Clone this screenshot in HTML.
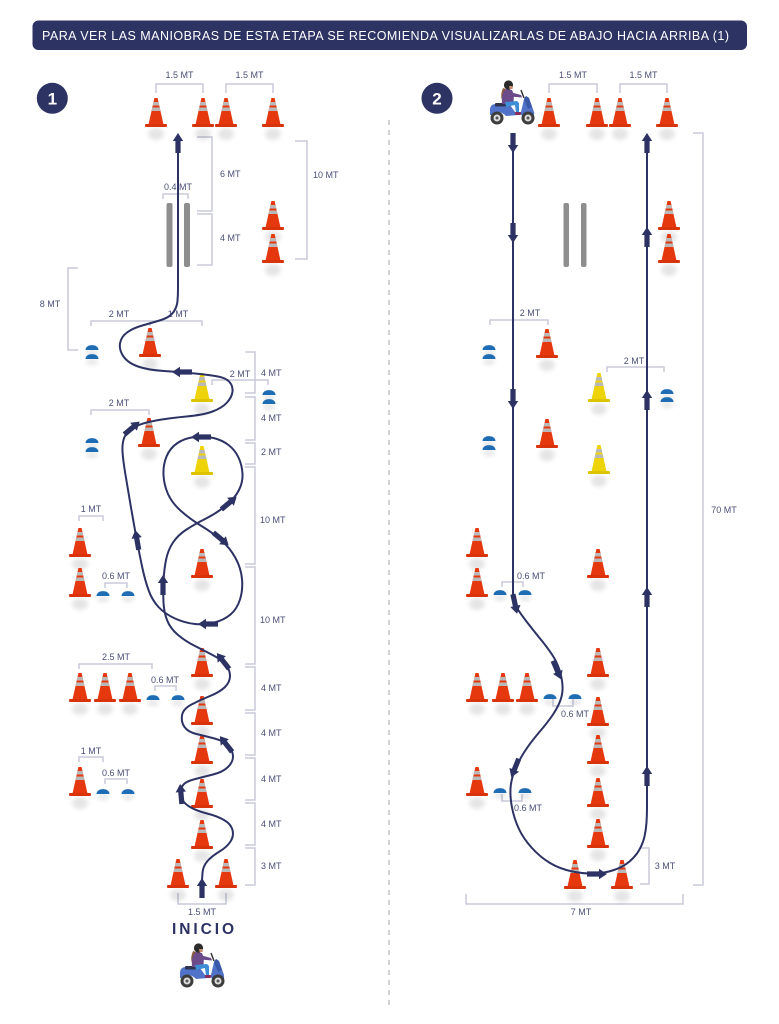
<!DOCTYPE html>
<html><head><meta charset="utf-8"><style>
html,body{margin:0;padding:0;background:#fff;}
svg{display:block;}
.l{font-family:"Liberation Sans",Arial,sans-serif;font-size:9px;fill:#4a4f77;text-anchor:middle;}
.ls{font-family:"Liberation Sans",Arial,sans-serif;font-size:9px;fill:#4a4f77;text-anchor:start;}
.b{fill:none;stroke:#c8cada;stroke-width:1.5;}
</style></head><body>
<svg width="779" height="1024" viewBox="0 0 779 1024" xmlns="http://www.w3.org/2000/svg" xmlns:xlink="http://www.w3.org/1999/xlink">
<defs>
<filter id="bl" x="-80%" y="-80%" width="260%" height="260%"><feGaussianBlur stdDeviation="2.5"/></filter>
<g id="cone">
 <ellipse cx="0" cy="7" rx="8" ry="6" fill="#000" opacity="0.10" filter="url(#bl)"/>
 <path d="M-1.6,-29 L1.6,-29 L7.5,-2.5 L-7.5,-2.5 Z" fill="#e5380e"/>
 <path d="M-2.49,-25 L2.49,-25 L3.27,-21.5 L-3.27,-21.5 Z" fill="#b9b9b9"/>
 <path d="M-3.71,-19.5 L3.71,-19.5 L4.49,-16 L-4.49,-16 Z" fill="#b9b9b9"/>
 <rect x="-11" y="-3" width="22" height="3" rx="1" fill="#d8330b"/>
</g>
<g id="ycone">
 <ellipse cx="0" cy="7" rx="8" ry="6" fill="#000" opacity="0.10" filter="url(#bl)"/>
 <path d="M-1.6,-29 L1.6,-29 L7.5,-2.5 L-7.5,-2.5 Z" fill="#efd30a"/>
 <path d="M-2.49,-25 L2.49,-25 L3.27,-21.5 L-3.27,-21.5 Z" fill="#b9b9b9"/>
 <path d="M-3.71,-19.5 L3.71,-19.5 L4.49,-16 L-4.49,-16 Z" fill="#b9b9b9"/>
 <rect x="-11" y="-3" width="22" height="3" rx="1" fill="#dec400"/>
</g>
<g id="disc">
 <ellipse cx="0" cy="3" rx="6" ry="3" fill="#000" opacity="0.1" filter="url(#bl)"/>
 <path d="M-6.5,0 C-6.5,-6.5 6.5,-6.5 6.5,0 Z" fill="#1e6cb4"/>
</g>
<path id="ar" d="M-10,-2.6 L2,-2.6 L2,-5.2 L10,0 L2,5.2 L2,2.6 L-10,2.6 Z" fill="#2c3263"/>
<g id="moto">
 <path d="M2,31 Q2,25 8,25 L22,26 L27,33 L33,33 L36,20 L38,17 L41,19 L46,33 Q47,38 43,38 L35,38 Q33,34 30,36 L18,37 Q14,33 10,33 Q5,33 4,36 L2,36 Z" fill="#5072c8"/>
 <path d="M36,20 L38,17 L41,19 L44,28 L40,30 Z" fill="#3a58a8"/>
 <circle cx="9" cy="39" r="6.5" fill="#3d3d3d"/><circle cx="9" cy="39" r="3.5" fill="#dcdcdc"/><circle cx="9" cy="39" r="1.5" fill="#555"/>
 <circle cx="40" cy="39" r="6.5" fill="#3d3d3d"/><circle cx="40" cy="39" r="3.5" fill="#dcdcdc"/><circle cx="40" cy="39" r="1.5" fill="#555"/>
 <rect x="7" y="24" width="15" height="3.5" rx="1" fill="#2f3450"/>
 <path d="M15,9 Q12,16 14,21 L18,19 Q16,13 18,10 Z" fill="#8b5a3c"/>
 <path d="M14,25 Q13,14 18,10 L24,11 Q27,17 25,25 Z" fill="#6c4b8a"/>
 <path d="M22,13 L33,16 L34,18.5 L22,17.5 Z" fill="#6c4b8a"/>
 <path d="M17,23 L29,22 L31,24 L31,34 L28,34 L27,26 L18,28 Z" fill="#3d8ed6"/>
 <rect x="27" y="33" width="6" height="3" rx="1" fill="#8b2d5a"/>
 <line x1="33" y1="11" x2="36" y2="19" stroke="#333" stroke-width="1.5"/>
 <circle cx="20.5" cy="6" r="4.6" fill="#2b2b2b"/>
 <path d="M21,7 L25,7 L24.5,10 L21.5,10 Z" fill="#c98d6e"/>
</g>
</defs>

<rect width="779" height="1024" fill="#fff"/>

<!-- Header -->
<rect x="32.5" y="20.5" width="714.5" height="29.5" rx="6" fill="#2d3363"/>
<text x="42" y="40" font-family="'Liberation Sans',Arial,sans-serif" font-size="12.5" fill="#fff" textLength="687" lengthAdjust="spacing">PARA VER LAS MANIOBRAS DE ESTA ETAPA SE RECOMIENDA VISUALIZARLAS DE ABAJO HACIA ARRIBA (1)</text>

<!-- Badges -->
<circle cx="52.3" cy="98.3" r="15.5" fill="#2d3363"/>
<text x="52.3" y="104.5" font-family="'Liberation Sans',Arial,sans-serif" font-size="17" font-weight="bold" fill="#fff" text-anchor="middle">1</text>
<circle cx="437" cy="98.3" r="15.5" fill="#2d3363"/>
<text x="437" y="104.5" font-family="'Liberation Sans',Arial,sans-serif" font-size="17" font-weight="bold" fill="#fff" text-anchor="middle">2</text>

<!-- Divider -->
<line x1="389" y1="120" x2="389" y2="1010" stroke="#b3b3b3" stroke-width="1.2" stroke-dasharray="5 5"/>

<!-- ============ LEFT DIAGRAM ============ -->
<path class="b" d="M156,93 L156,84 L203,84 L203,93"/>
<path class="b" d="M226,93 L226,84 L273,84 L273,93"/>
<path class="b" d="M163,199 L163,194 L188,194 L188,199"/>
<path class="b" d="M197,137 L212,137 L212,211 L197,211"/>
<path class="b" d="M197,214 L212,214 L212,265 L197,265"/>
<path class="b" d="M295,141 L307,141 L307,259 L295,259"/>
<path class="b" d="M78,268 L68,268 L68,350 L78,350"/>
<path class="b" d="M91,326 L91,321 L202,321 L202,326 M150,321 L150,326"/>
<path class="b" d="M212,385 L212,380 L268,380 L268,385"/>
<path class="b" d="M91,415 L91,410 L149,410 L149,415"/>
<path class="b" d="M79,521 L79,516 L103,516 L103,521"/>
<path class="b" d="M105,588 L105,583 L127,583 L127,588"/>
<path class="b" d="M79,669 L79,664 L152,664 L152,669"/>
<path class="b" d="M155,691 L155,686 L176,686 L176,691"/>
<path class="b" d="M79,762 L79,757 L103,757 L103,762"/>
<path class="b" d="M105,784 L105,779 L127,779 L127,784"/>
<path class="b" d="M178,893 L178,904 L226,904 L226,893"/>
<path class="b" d="M245,352 L255,352 L255,393 L245,393"/>
<path class="b" d="M245,397 L255,397 L255,440 L245,440"/>
<path class="b" d="M245,443 L255,443 L255,464 L245,464"/>
<path class="b" d="M245,467 L255,467 L255,564 L245,564"/>
<path class="b" d="M245,567 L255,567 L255,664 L245,664"/>
<path class="b" d="M245,667 L255,667 L255,710 L245,710"/>
<path class="b" d="M245,713 L255,713 L255,755 L245,755"/>
<path class="b" d="M245,758 L255,758 L255,800 L245,800"/>
<path class="b" d="M245,803 L255,803 L255,845 L245,845"/>
<path class="b" d="M245,848 L255,848 L255,885 L245,885"/>

<text class="l" x="179.5" y="78">1.5 MT</text>
<text class="l" x="249.5" y="78">1.5 MT</text>
<text class="l" x="178" y="190">0.4 MT</text>
<text class="ls" x="220" y="177">6 MT</text>
<text class="ls" x="220" y="241">4 MT</text>
<text class="ls" x="313" y="178">10 MT</text>
<text class="l" x="50" y="307">8 MT</text>
<text class="l" x="119" y="317">2 MT</text>
<text class="l" x="178" y="317">1 MT</text>
<text class="l" x="240" y="377">2 MT</text>
<text class="l" x="119" y="406">2 MT</text>
<text class="l" x="91" y="512">1 MT</text>
<text class="l" x="116" y="579">0.6 MT</text>
<text class="l" x="116" y="660">2.5 MT</text>
<text class="l" x="165" y="683">0.6 MT</text>
<text class="l" x="91" y="754">1 MT</text>
<text class="l" x="116" y="776">0.6 MT</text>
<text class="l" x="202" y="915">1.5 MT</text>
<text class="ls" x="261" y="376">4 MT</text>
<text class="ls" x="261" y="421">4 MT</text>
<text class="ls" x="261" y="455">2 MT</text>
<text class="ls" x="260" y="523">10 MT</text>
<text class="ls" x="260" y="623">10 MT</text>
<text class="ls" x="261" y="691">4 MT</text>
<text class="ls" x="261" y="736">4 MT</text>
<text class="ls" x="261" y="782">4 MT</text>
<text class="ls" x="261" y="827">4 MT</text>
<text class="ls" x="261" y="869">3 MT</text>
<text x="203" y="934" font-family="'Liberation Sans',Arial,sans-serif" font-size="15.5" font-weight="bold" fill="#2c3263" text-anchor="middle" textLength="62" lengthAdjust="spacing">INICIO</text>

<rect x="166.5" y="203" width="6" height="64" rx="2" fill="#8e8e8e"/>
<rect x="184" y="203" width="6" height="64" rx="2" fill="#8e8e8e"/>

<use xlink:href="#cone" transform="translate(156,127)"/>
<use xlink:href="#cone" transform="translate(203,127)"/>
<use xlink:href="#cone" transform="translate(226,127)"/>
<use xlink:href="#cone" transform="translate(273,127)"/>
<use xlink:href="#cone" transform="translate(273,230)"/>
<use xlink:href="#cone" transform="translate(273,263)"/>
<use xlink:href="#cone" transform="translate(150,357)"/>
<use xlink:href="#ycone" transform="translate(202,402)"/>
<use xlink:href="#cone" transform="translate(149,447)"/>
<use xlink:href="#ycone" transform="translate(202,475)"/>
<use xlink:href="#cone" transform="translate(80,557)"/>
<use xlink:href="#cone" transform="translate(80,597)"/>
<use xlink:href="#cone" transform="translate(202,578)"/>
<use xlink:href="#cone" transform="translate(202,677)"/>
<use xlink:href="#cone" transform="translate(80,702)"/>
<use xlink:href="#cone" transform="translate(105,702)"/>
<use xlink:href="#cone" transform="translate(130,702)"/>
<use xlink:href="#cone" transform="translate(202,725)"/>
<use xlink:href="#cone" transform="translate(202,764)"/>
<use xlink:href="#cone" transform="translate(202,808)"/>
<use xlink:href="#cone" transform="translate(202,849)"/>
<use xlink:href="#cone" transform="translate(80,796)"/>
<use xlink:href="#cone" transform="translate(178,888)"/>
<use xlink:href="#cone" transform="translate(226,888)"/>

<use xlink:href="#disc" transform="translate(92,350)"/>
<use xlink:href="#disc" transform="translate(92,359)"/>
<use xlink:href="#disc" transform="translate(92,443)"/>
<use xlink:href="#disc" transform="translate(92,452)"/>
<use xlink:href="#disc" transform="translate(269,395)"/>
<use xlink:href="#disc" transform="translate(269,404)"/>
<use xlink:href="#disc" transform="translate(103,596)"/>
<use xlink:href="#disc" transform="translate(128,596)"/>
<use xlink:href="#disc" transform="translate(153,700)"/>
<use xlink:href="#disc" transform="translate(178,700)"/>
<use xlink:href="#disc" transform="translate(103,794)"/>
<use xlink:href="#disc" transform="translate(128,794)"/>

<path fill="none" stroke="#2c3263" stroke-width="2" stroke-linecap="round" stroke-linejoin="round" d="M202,880 L202.5,873 Q203,866 207.5,861 Q212,856 219.5,851.5 Q227,847 230.5,841.5 Q234,836 232.5,830 Q231,824 224,820 Q217,816 207,813.5 Q197,811 190,807 Q183,803 181.5,797.5 Q180,792 182,787 Q184,782 193.5,779.5 Q203,777 213,774.5 Q223,772 228,767 Q233,762 233,756.5 Q233,751 228.5,746 Q224,741 214.5,738.5 Q205,736 196.5,734 Q188,732 184.5,727 Q181,722 182,715.5 Q183,709 191.5,704.5 Q200,700 210,696 Q220,692 225,687 Q230,682 230,676 Q230,670 226,665 Q222,660 213.5,655.5 Q205,651 195,646 Q185,641 177.5,634.5 Q170,628 167,620 Q164,612 163.5,602.5 Q163,593 163.5,581.5 Q164,570 166,560 Q168,550 173,542.5 Q178,535 186.5,529.5 Q195,524 206,518.5 Q217,513 226,505.5 Q235,498 239,490 Q243,482 242.5,473.5 Q242,465 238.5,457.5 Q235,450 228.5,445 Q222,440 213.5,438 Q205,436 195,437 Q185,438 177.5,443 Q170,448 166.5,456.5 Q163,465 163.5,475 Q164,485 168,494 Q172,503 181,511 Q190,519 201.5,526 Q213,533 221.5,540.5 Q230,548 235.5,558 Q241,568 242,579 Q243,590 240,599.5 Q237,609 230.5,614.5 Q224,620 214.5,622.5 Q205,625 195,624 Q185,623 175,618.5 Q165,614 158.5,607 Q152,600 148.5,590 Q145,580 142.5,568.5 Q140,557 137,541 Q134,525 131,507.5 Q128,490 125.5,475 Q123,460 122.5,451.5 Q122,443 124.5,437 Q127,431 134.5,427 Q142,423 156,420.5 Q170,418 186.5,416.5 Q203,415 212.5,411.5 Q222,408 227,402.5 Q232,397 232.5,391.5 Q233,386 229.5,382 Q226,378 218,376.5 Q210,375 195,373.5 Q180,372 164,371 Q148,370 138,366.5 Q128,363 123.5,356.5 Q119,350 120,343.5 Q121,337 127,332.5 Q133,328 144,325 Q155,322 162.5,319.5 Q170,317 173.5,312 Q177,307 177.5,301 Q178,295 178,288 L178,150"/>

<use xlink:href="#ar" transform="translate(202,888) rotate(-90)"/>
<use xlink:href="#ar" transform="translate(181,794) rotate(-95)"/>
<use xlink:href="#ar" transform="translate(226,744) rotate(-128)"/>
<use xlink:href="#ar" transform="translate(223,661) rotate(-128)"/>
<use xlink:href="#ar" transform="translate(163,585) rotate(-90)"/>
<use xlink:href="#ar" transform="translate(229,503) rotate(-40)"/>
<use xlink:href="#ar" transform="translate(201,437) rotate(180)"/>
<use xlink:href="#ar" transform="translate(221,539) rotate(40)"/>
<use xlink:href="#ar" transform="translate(208,624) rotate(180)"/>
<use xlink:href="#ar" transform="translate(137,540) rotate(-100)"/>
<use xlink:href="#ar" transform="translate(132,428) rotate(-40)"/>
<use xlink:href="#ar" transform="translate(182,372) rotate(180)"/>
<use xlink:href="#ar" transform="translate(178,143) rotate(-90)"/>

<use xlink:href="#moto" transform="translate(178,942)"/>

<!-- ============ RIGHT DIAGRAM ============ -->
<path class="b" d="M549,93 L549,84 L597,84 L597,93"/>
<path class="b" d="M620,93 L620,84 L667,84 L667,93"/>
<path class="b" d="M490,325 L490,320 L548,320 L548,325"/>
<path class="b" d="M607,372 L607,367 L664,367 L664,372"/>
<path class="b" d="M693,133 L703,133 L703,885 L693,885"/>
<path class="b" d="M502,587 L502,582 L523,582 L523,587"/>
<path class="b" d="M553,698 L553,706 L573,706 L573,698"/>
<path class="b" d="M502,794 L502,801 L522,801 L522,794"/>
<path class="b" d="M640,848 L649,848 L649,884 L640,884"/>
<path class="b" d="M466,894 L466,904 L683,904 L683,894"/>

<text class="l" x="573" y="78">1.5 MT</text>
<text class="l" x="643.5" y="78">1.5 MT</text>
<text class="l" x="530" y="316">2 MT</text>
<text class="l" x="634" y="364">2 MT</text>
<text class="l" x="724" y="513">70 MT</text>
<text class="l" x="531" y="579">0.6 MT</text>
<text class="l" x="575" y="717">0.6 MT</text>
<text class="l" x="528" y="811">0.6 MT</text>
<text class="l" x="665" y="869">3 MT</text>
<text class="l" x="581" y="915">7 MT</text>

<rect x="563.5" y="203" width="5.5" height="64" rx="2" fill="#8e8e8e"/>
<rect x="581" y="203" width="5.5" height="64" rx="2" fill="#8e8e8e"/>

<use xlink:href="#cone" transform="translate(549,127)"/>
<use xlink:href="#cone" transform="translate(597,127)"/>
<use xlink:href="#cone" transform="translate(620,127)"/>
<use xlink:href="#cone" transform="translate(667,127)"/>
<use xlink:href="#cone" transform="translate(669,230)"/>
<use xlink:href="#cone" transform="translate(669,263)"/>
<use xlink:href="#cone" transform="translate(547,358)"/>
<use xlink:href="#ycone" transform="translate(599,402)"/>
<use xlink:href="#cone" transform="translate(547,448)"/>
<use xlink:href="#ycone" transform="translate(599,474)"/>
<use xlink:href="#cone" transform="translate(477,557)"/>
<use xlink:href="#cone" transform="translate(477,597)"/>
<use xlink:href="#cone" transform="translate(598,578)"/>
<use xlink:href="#cone" transform="translate(477,702)"/>
<use xlink:href="#cone" transform="translate(503,702)"/>
<use xlink:href="#cone" transform="translate(527,702)"/>
<use xlink:href="#cone" transform="translate(598,677)"/>
<use xlink:href="#cone" transform="translate(598,726)"/>
<use xlink:href="#cone" transform="translate(598,764)"/>
<use xlink:href="#cone" transform="translate(598,807)"/>
<use xlink:href="#cone" transform="translate(598,848)"/>
<use xlink:href="#cone" transform="translate(477,796)"/>
<use xlink:href="#cone" transform="translate(575,889)"/>
<use xlink:href="#cone" transform="translate(622,889)"/>

<use xlink:href="#disc" transform="translate(489,350)"/>
<use xlink:href="#disc" transform="translate(489,359)"/>
<use xlink:href="#disc" transform="translate(667,394)"/>
<use xlink:href="#disc" transform="translate(667,402)"/>
<use xlink:href="#disc" transform="translate(489,441)"/>
<use xlink:href="#disc" transform="translate(489,450)"/>
<use xlink:href="#disc" transform="translate(500,595)"/>
<use xlink:href="#disc" transform="translate(525,595)"/>
<use xlink:href="#disc" transform="translate(550,699)"/>
<use xlink:href="#disc" transform="translate(575,699)"/>
<use xlink:href="#disc" transform="translate(500,793)"/>
<use xlink:href="#disc" transform="translate(525,793)"/>

<path fill="none" stroke="#2c3263" stroke-width="2" stroke-linecap="round" stroke-linejoin="round" d="M513,135 L513,596.5 Q514,603 517,608 Q520,613 526.5,621.5 Q533,630 540,638.5 Q547,647 552,654.5 Q557,662 559.5,670 Q562,678 562.5,685.5 Q563,693 560.5,700 Q558,707 553,714.5 Q548,722 539,732.5 Q530,743 524,752.5 Q518,762 514.5,771 Q511,780 510.5,788.5 Q510,797 512,807.5 Q514,818 518.5,828 Q523,838 531.5,847.5 Q540,857 550,863 Q560,869 572.5,871.5 Q585,874 595,873.5 Q605,873 614,870 Q623,867 629.5,861.5 Q636,856 639.5,849.5 Q643,843 644.5,836.5 Q646,830 646.5,822.5 Q647,815 647,807 L647,135"/>

<use xlink:href="#ar" transform="translate(513,143) rotate(90)"/>
<use xlink:href="#ar" transform="translate(513,233) rotate(90)"/>
<use xlink:href="#ar" transform="translate(513,399) rotate(90)"/>
<use xlink:href="#ar" transform="translate(515,604) rotate(78)"/>
<use xlink:href="#ar" transform="translate(557,670) rotate(67)"/>
<use xlink:href="#ar" transform="translate(515,768) rotate(112)"/>
<use xlink:href="#ar" transform="translate(597,874) rotate(0)"/>
<use xlink:href="#ar" transform="translate(647,143) rotate(-90)"/>
<use xlink:href="#ar" transform="translate(647,237) rotate(-90)"/>
<use xlink:href="#ar" transform="translate(647,400) rotate(-90)"/>
<use xlink:href="#ar" transform="translate(647,597) rotate(-90)"/>
<use xlink:href="#ar" transform="translate(647,776) rotate(-90)"/>

<use xlink:href="#moto" transform="translate(488,79)"/>
</svg>
</body></html>
